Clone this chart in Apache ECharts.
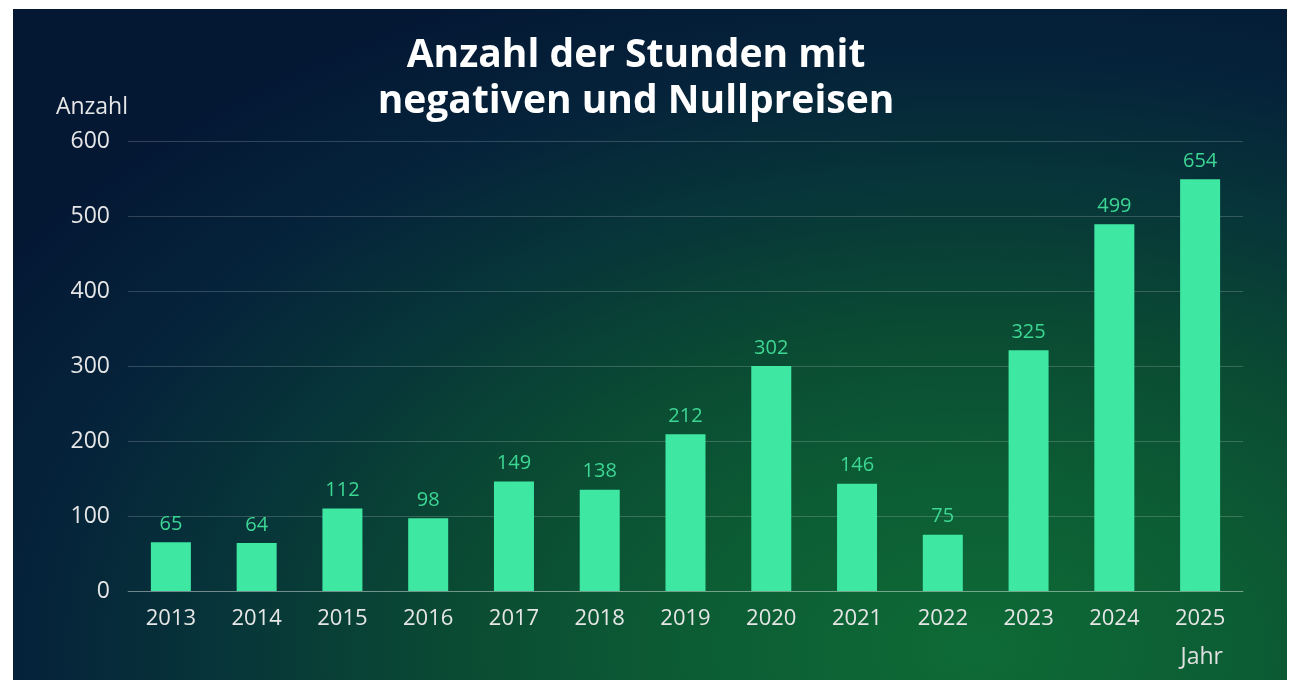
<!DOCTYPE html>
<html>
<head>
<meta charset="utf-8">
<script src="https://cdn.jsdelivr.net/npm/echarts@6/dist/echarts.min.js"></script>
<style>
  html, body { margin: 0; padding: 0; background: #ffffff; }
  #panel {
    position: absolute; left: 13px; top: 9px; width: 1274px; height: 671px;
    background: radial-gradient(ellipse 1150px 720px at 960px 640px,
      #0e6b36 0%, #0c5c34 25%, #0a4b33 45%, #073539 65%, #05233a 82%, #041834 100%);
  }
  #chart { position: absolute; left: 0; top: 0; width: 1300px; height: 690px; }
</style>
</head>
<body>
<div id="panel"></div>
<div id="chart"></div>
<script>
// Data
const categories = ['2013','2014','2015','2016','2017','2018','2019','2020','2021','2022','2023','2024','2025'];
// bar heights as drawn
const values = [65, 64, 110, 97, 146, 135, 209, 300, 143, 75, 321, 489, 549];
// numbers printed above the bars
const valueLabels = ['65','64','112','98','149','138','212','302','146','75','325','499','654'];
const yTicks = [0, 100, 200, 300, 400, 500, 600];

const chart = echarts.init(document.getElementById('chart'), null, { renderer: 'canvas' });
const font = '"Open Sans", Lato, sans-serif';

chart.setOption({
  backgroundColor: 'transparent',
  animation: false,
  title: {
    text: 'Anzahl der Stunden mit\nnegativen und Nullpreisen',
    left: 631,
    textAlign: 'center',
    top: 28,
    textStyle: {
      color: '#ffffff', fontSize: 39, fontWeight: 'bold', fontFamily: font,
      lineHeight: 46
    }
  },
  grid: { left: 128, right: 57, top: 141, bottom: 99 },
  xAxis: {
    type: 'category',
    data: categories,
    axisTick: { show: false },
    axisLine: { lineStyle: { color: 'rgba(255,255,255,0.3)', width: 1 } },
    axisLabel: { color: '#e6e6e6', fontSize: 22, fontFamily: font, margin: 17 }
  },
  yAxis: {
    type: 'value',
    min: yTicks[0],
    max: yTicks[yTicks.length - 1],
    interval: 100,
    name: 'Anzahl',
    nameLocation: 'end',
    nameGap: 22,
    nameTextStyle: { color: '#e6e6e6', fontSize: 23, fontFamily: font, align: 'right' },
    axisLine: { show: false },
    axisTick: { show: false },
    splitLine: { lineStyle: { color: 'rgba(255,255,255,0.18)', width: 1 } },
    axisLabel: { color: '#e6e6e6', fontSize: 23, fontFamily: font, margin: 18 }
  },
  series: [{
    type: 'bar',
    data: values,
    barWidth: 40,
    itemStyle: { color: '#3ee8a2' },
    label: {
      show: true,
      position: 'top',
      distance: 8,
      color: '#3dd794',
      fontSize: 20,
      fontFamily: font,
      formatter: p => valueLabels[p.dataIndex]
    }
  }],
  graphic: [{
    type: 'text',
    right: 77,
    top: 646,
    style: { text: 'Jahr', fill: '#e0e0e0', font: '23px ' + font }
  }]
});
</script>
</body>
</html>
